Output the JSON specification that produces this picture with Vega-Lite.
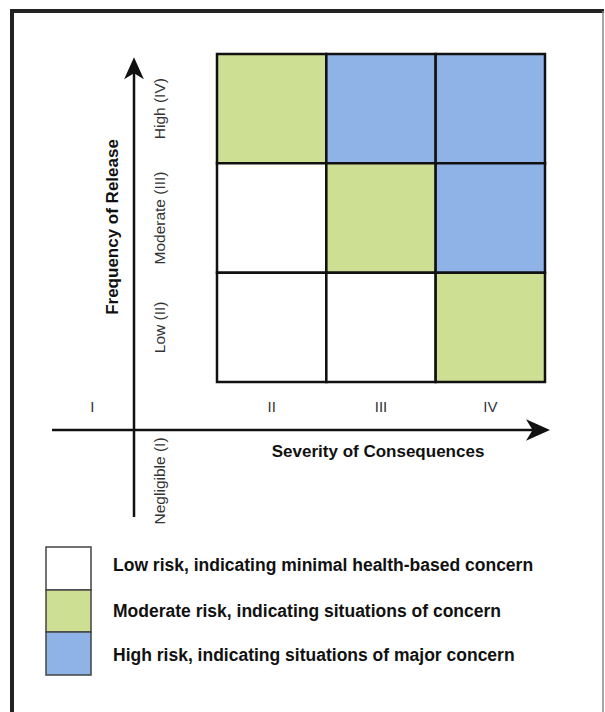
{
  "$schema": "https://vega.github.io/schema/vega-lite/v6.json",
  "width": 605,
  "height": 712,
  "autosize": "none",
  "padding": 0,
  "background": "white",
  "config": {
    "view": {"stroke": null},
    "font": "Liberation Sans"
  },
  "datasets": {
    "cells": [
      {"severity": 2, "frequency": 4, "risk": "Moderate"},
      {"severity": 3, "frequency": 4, "risk": "High"},
      {"severity": 4, "frequency": 4, "risk": "High"},
      {"severity": 2, "frequency": 3, "risk": "Low"},
      {"severity": 3, "frequency": 3, "risk": "Moderate"},
      {"severity": 4, "frequency": 3, "risk": "High"},
      {"severity": 2, "frequency": 2, "risk": "Low"},
      {"severity": 3, "frequency": 2, "risk": "Low"},
      {"severity": 4, "frequency": 2, "risk": "Moderate"}
    ],
    "severityLabels": [
      {"label": "I", "severity": 0.36},
      {"label": "II", "severity": 2},
      {"label": "III", "severity": 3},
      {"label": "IV", "severity": 4}
    ],
    "frequencyLabels": [
      {"label": "Negligible (I)", "frequency": 0.595},
      {"label": "Low (II)", "frequency": 2},
      {"label": "Moderate (III)", "frequency": 3},
      {"label": "High (IV)", "frequency": 4}
    ]
  },
  "layer": [
    {
      "data": {"values": [{}]},
      "mark": {"type": "rule", "color": "#222222", "strokeWidth": 4},
      "encoding": {
        "x": {"datum": -0.375, "type": "quantitative", "scale": {"domain": [-0.4848, 5.0488], "nice": false, "zero": false}, "axis": null},
        "y": {"datum": 4.912, "type": "quantitative", "scale": {"domain": [-1.5183, 4.9939], "nice": false, "zero": false}, "axis": null},
        "y2": {"datum": -1.5183}
      }
    },
    {
      "data": {"values": [{}]},
      "mark": {"type": "rule", "color": "#222222", "strokeWidth": 4},
      "encoding": {
        "x": {"datum": -0.393, "type": "quantitative", "scale": {"domain": [-0.4848, 5.0488], "nice": false, "zero": false}, "axis": null},
        "x2": {"datum": 5.04},
        "y": {"datum": 4.893, "type": "quantitative", "scale": {"domain": [-1.5183, 4.9939], "nice": false, "zero": false}, "axis": null}
      }
    },
    {
      "data": {"values": [{}]},
      "mark": {"type": "rule", "color": "#888888", "strokeWidth": 1.5},
      "encoding": {
        "x": {"datum": 5.0305, "type": "quantitative", "scale": {"domain": [-0.4848, 5.0488], "nice": false, "zero": false}, "axis": null},
        "y": {"datum": 4.893, "type": "quantitative", "scale": {"domain": [-1.5183, 4.9939], "nice": false, "zero": false}, "axis": null},
        "y2": {"datum": -1.5183}
      }
    },
    {
      "data": {"name": "cells"},
      "mark": {"type": "square", "size": 11954, "filled": true, "opacity": 1, "stroke": "#111111", "strokeWidth": 2.5},
      "encoding": {
        "x": {"field": "severity", "type": "quantitative", "scale": {"domain": [-0.4848, 5.0488], "nice": false, "zero": false}, "axis": null},
        "y": {"field": "frequency", "type": "quantitative", "scale": {"domain": [-1.5183, 4.9939], "nice": false, "zero": false}, "axis": null},
        "color": {
          "field": "risk",
          "type": "nominal",
          "scale": {"domain": ["Low", "Moderate", "High"], "range": ["#ffffff", "#cddf93", "#8fb3e7"]},
          "legend": null
        }
      }
    },
    {
      "data": {"values": [{}]},
      "mark": {"type": "rect", "stroke": "#444444", "strokeWidth": 1.5, "opacity": 1},
      "encoding": {
        "x": {"datum": -0.064, "type": "quantitative", "scale": {"domain": [-0.4848, 5.0488], "nice": false, "zero": false}, "axis": null},
        "x2": {"datum": 0.3476},
        "y": {"datum": -0.00915, "type": "quantitative", "scale": {"domain": [-1.5183, 4.9939], "nice": false, "zero": false}, "axis": null},
        "y2": {"datum": -0.4024},
        "color": {"datum": "Low", "type": "nominal", "legend": null}
      }
    },
    {
      "data": {"values": [{}]},
      "mark": {"type": "rect", "stroke": "#444444", "strokeWidth": 1.5, "opacity": 1},
      "encoding": {
        "x": {"datum": -0.064, "type": "quantitative", "scale": {"domain": [-0.4848, 5.0488], "nice": false, "zero": false}, "axis": null},
        "x2": {"datum": 0.3476},
        "y": {"datum": -0.4024, "type": "quantitative", "scale": {"domain": [-1.5183, 4.9939], "nice": false, "zero": false}, "axis": null},
        "y2": {"datum": -0.7866},
        "color": {"datum": "Moderate", "type": "nominal", "legend": null}
      }
    },
    {
      "data": {"values": [{}]},
      "mark": {"type": "rect", "stroke": "#444444", "strokeWidth": 1.5, "opacity": 1},
      "encoding": {
        "x": {"datum": -0.064, "type": "quantitative", "scale": {"domain": [-0.4848, 5.0488], "nice": false, "zero": false}, "axis": null},
        "x2": {"datum": 0.3476},
        "y": {"datum": -0.7866, "type": "quantitative", "scale": {"domain": [-1.5183, 4.9939], "nice": false, "zero": false}, "axis": null},
        "y2": {"datum": -1.1799},
        "color": {"datum": "High", "type": "nominal", "legend": null}
      }
    },
    {
      "data": {"values": [{}]},
      "mark": {"type": "text", "text": "Low risk, indicating minimal health-based concern", "fontSize": 17.5, "fontWeight": "bold", "color": "#111111", "align": "left", "baseline": "middle"},
      "encoding": {
        "x": {"datum": 0.5488, "type": "quantitative", "scale": {"domain": [-0.4848, 5.0488], "nice": false, "zero": false}, "axis": null},
        "y": {"datum": -0.1829, "type": "quantitative", "scale": {"domain": [-1.5183, 4.9939], "nice": false, "zero": false}, "axis": null}
      }
    },
    {
      "data": {"values": [{}]},
      "mark": {"type": "text", "text": "Moderate risk, indicating situations of concern", "fontSize": 17.5, "fontWeight": "bold", "color": "#111111", "align": "left", "baseline": "middle"},
      "encoding": {
        "x": {"datum": 0.5488, "type": "quantitative", "scale": {"domain": [-0.4848, 5.0488], "nice": false, "zero": false}, "axis": null},
        "y": {"datum": -0.5991, "type": "quantitative", "scale": {"domain": [-1.5183, 4.9939], "nice": false, "zero": false}, "axis": null}
      }
    },
    {
      "data": {"values": [{}]},
      "mark": {"type": "text", "text": "High risk, indicating situations of major concern", "fontSize": 17.5, "fontWeight": "bold", "color": "#111111", "align": "left", "baseline": "middle"},
      "encoding": {
        "x": {"datum": 0.5488, "type": "quantitative", "scale": {"domain": [-0.4848, 5.0488], "nice": false, "zero": false}, "axis": null},
        "y": {"datum": -1.0061, "type": "quantitative", "scale": {"domain": [-1.5183, 4.9939], "nice": false, "zero": false}, "axis": null}
      }
    },
    {
      "data": {"values": [{}]},
      "mark": {"type": "rule", "color": "#111111", "strokeWidth": 2.5},
      "encoding": {
        "x": {"datum": 0.7409, "type": "quantitative", "scale": {"domain": [-0.4848, 5.0488], "nice": false, "zero": false}, "axis": null},
        "y": {"datum": 0.2652, "type": "quantitative", "scale": {"domain": [-1.5183, 4.9939], "nice": false, "zero": false}, "axis": null},
        "y2": {"datum": 4.36}
      }
    },
    {
      "data": {"values": [{}]},
      "mark": {"type": "rule", "color": "#111111", "strokeWidth": 2.5},
      "encoding": {
        "x": {"datum": -0.0091, "type": "quantitative", "scale": {"domain": [-0.4848, 5.0488], "nice": false, "zero": false}, "axis": null},
        "x2": {"datum": 4.43},
        "y": {"datum": 1.061, "type": "quantitative", "scale": {"domain": [-1.5183, 4.9939], "nice": false, "zero": false}, "axis": null}
      }
    },
    {
      "data": {"values": [{}]},
      "mark": {"type": "point", "shape": "M1,0L-1,-0.9L-0.45,0L-1,0.9Z", "size": 576, "filled": true, "opacity": 1, "color": "#111111"},
      "encoding": {
        "x": {"datum": 4.436, "type": "quantitative", "scale": {"domain": [-0.4848, 5.0488], "nice": false, "zero": false}, "axis": null},
        "y": {"datum": 1.061, "type": "quantitative", "scale": {"domain": [-1.5183, 4.9939], "nice": false, "zero": false}, "axis": null}
      }
    },
    {
      "data": {"values": [{}]},
      "mark": {"type": "point", "shape": "M1,0L-1,-0.9L-0.45,0L-1,0.9Z", "size": 484, "angle": 270, "filled": true, "opacity": 1, "color": "#111111"},
      "encoding": {
        "x": {"datum": 0.7409, "type": "quantitative", "scale": {"domain": [-0.4848, 5.0488], "nice": false, "zero": false}, "axis": null},
        "y": {"datum": 4.37, "type": "quantitative", "scale": {"domain": [-1.5183, 4.9939], "nice": false, "zero": false}, "axis": null}
      }
    },
    {
      "data": {"name": "severityLabels"},
      "mark": {"type": "text", "fontSize": 15, "color": "#333333", "align": "center", "baseline": "middle"},
      "encoding": {
        "x": {"field": "severity", "type": "quantitative", "scale": {"domain": [-0.4848, 5.0488], "nice": false, "zero": false}, "axis": null},
        "y": {"datum": 1.271, "type": "quantitative", "scale": {"domain": [-1.5183, 4.9939], "nice": false, "zero": false}, "axis": null},
        "text": {"field": "label"}
      }
    },
    {
      "data": {"name": "frequencyLabels"},
      "mark": {"type": "text", "fontSize": 15.5, "color": "#333333", "align": "center", "baseline": "middle", "angle": 270},
      "encoding": {
        "x": {"datum": 0.98, "type": "quantitative", "scale": {"domain": [-0.4848, 5.0488], "nice": false, "zero": false}, "axis": null},
        "y": {"field": "frequency", "type": "quantitative", "scale": {"domain": [-1.5183, 4.9939], "nice": false, "zero": false}, "axis": null},
        "text": {"field": "label"}
      }
    },
    {
      "data": {"values": [{}]},
      "mark": {"type": "text", "text": "Severity of Consequences", "fontSize": 17, "fontWeight": "bold", "color": "#111111", "align": "center", "baseline": "middle"},
      "encoding": {
        "x": {"datum": 2.973, "type": "quantitative", "scale": {"domain": [-0.4848, 5.0488], "nice": false, "zero": false}, "axis": null},
        "y": {"datum": 0.86, "type": "quantitative", "scale": {"domain": [-1.5183, 4.9939], "nice": false, "zero": false}, "axis": null}
      }
    },
    {
      "data": {"values": [{}]},
      "mark": {"type": "text", "text": "Frequency of Release", "fontSize": 17, "fontWeight": "bold", "color": "#111111", "align": "center", "baseline": "middle", "angle": 270},
      "encoding": {
        "x": {"datum": 0.549, "type": "quantitative", "scale": {"domain": [-0.4848, 5.0488], "nice": false, "zero": false}, "axis": null},
        "y": {"datum": 2.918, "type": "quantitative", "scale": {"domain": [-1.5183, 4.9939], "nice": false, "zero": false}, "axis": null}
      }
    }
  ]
}
